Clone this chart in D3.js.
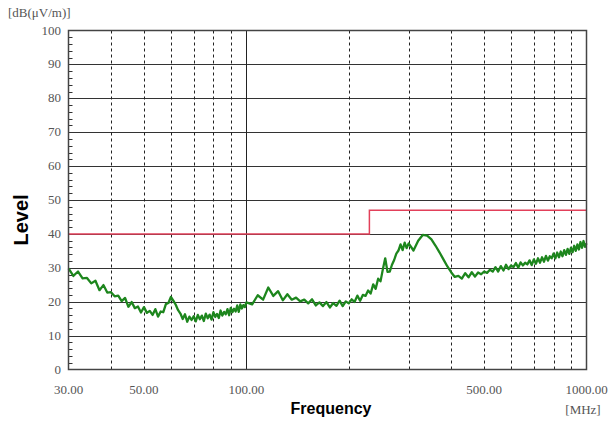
<!DOCTYPE html>
<html>
<head>
<meta charset="utf-8">
<script src="https://cdn.jsdelivr.net/npm/d3@7"></script>
<style>
  body { margin: 0; background: #fff; }
  svg { display: block; }
  .tick-label { font-family: "Liberation Serif", "DejaVu Serif", serif; font-size: 13px; fill: #555; }
  .axis-title { font-family: "Liberation Sans", Arial, sans-serif; font-weight: bold; fill: #000; }
</style>
</head>
<body>
<svg width="611" height="423"></svg>
<script>
// measured trace (MHz / dBuV/m)
const freqs = [
  30,31,32,33,34,35,36,37,38,39,40,41,42,43,44,45,46,47,48,49,50,
  51,52,53,54,55,56,57,58,59,60,61,62,63,64,65,66,67,68,69,70,
  71,72,73,74,75,76,77,78,79,80,81,82,83,84,85,86,87,88,89,90,
  91,92,93,94,95,96,97,98,99,100,
  104,108,112,116,120,124,128,132,136,140,144,148,152,156,160,164,168,172,176,180,
  184,188,192,196,200,204,208,212,216,220,224,228,232,236,240,244,248,252,256,260,
  264,268,272,276,280,284,288,292,296,300,
  310,320,330,340,350,360,370,380,390,400,410,420,430,440,450,460,470,480,490,500,
  510,520,530,540,550,560,570,580,590,600,610,620,630,640,650,660,670,680,690,700,
  710,720,730,740,750,760,770,780,790,800,810,820,830,840,850,860,870,880,890,900,
  910,920,930,940,950,960,970,980,990,1000
];
const levels = [
  29.8,27.6,28.9,26.9,27.0,25.4,26.2,23.4,24.9,22.7,22.8,21.6,21.8,20.2,21.1,18.5,19.9,18.1,18.6,16.8,18.4,
  16.7,17.3,16.1,17.8,15.6,17.1,16.9,19.3,19.6,21.4,20.3,19.1,17.5,16.5,14.9,16.3,14.1,15.6,14.6,15.7,
  14.2,16.1,14.8,15.9,14.3,16.5,15.1,16.2,14.7,16.9,15.5,16.4,15.2,17.4,15.9,17.0,16.3,17.8,16.0,18.2,
  16.9,17.9,17.1,18.9,17.0,19.2,18.0,19.0,18.4,19.8,
  19.2,21.9,20.6,24.2,21.7,23.1,20.4,22.2,20.6,21.2,20.1,20.6,19.5,20.7,18.9,19.8,18.7,19.9,18.3,19.6,
  18.8,20.3,18.7,20.1,19.5,20.7,19.9,21.8,20.3,22.0,21.7,23.3,22.4,25.1,23.8,26.8,26.0,29.6,32.8,28.8,
  28.9,30.9,32.3,34.2,35.1,36.9,35.2,37.4,35.8,37.2,
  35.1,38.0,39.7,39.5,38.4,36.5,34.5,32.4,30.4,28.7,27.3,27.6,26.8,28.4,27.2,28.7,27.4,28.6,28.1,28.9,
  28.5,29.4,28.9,30.2,28.9,30.5,29.2,30.9,29.6,30.7,30.2,31.4,30.0,31.6,30.7,31.5,31.0,32.2,30.8,32.5,
  31.2,32.8,31.5,33.1,31.8,33.5,32.1,33.4,32.8,34.2,32.8,34.5,33.1,34.8,33.4,35.2,33.8,35.6,34.1,35.9,
  34.6,36.5,35.0,36.9,35.4,37.6,35.9,37.9,36.2,37.2
];

// limit line
const limitFreqs = [30, 230, 230, 1000];
const limitLevels = [40, 40, 47, 47];

const yTicks = [0,10,20,30,40,50,60,70,80,90,100];
const gridFreqs = [40,50,60,70,80,90,100,200,300,400,500,600,700,800,900];
const xLabelFreqs = [30,50,100,500,1000];

const svg = d3.select("svg");
const plotL = 68.5, plotR = 586.5, plotT = 30.5, plotB = 369.5;

const x = d3.scaleLog().domain([30, 1000]).range([plotL, plotR]);
const y = d3.scaleLinear().domain([0, 100]).range([plotB, plotT]);

// horizontal grid
svg.append("g").selectAll("line")
  .data(yTicks.filter(d => d > 0 && d < 100))
  .enter().append("line")
    .attr("x1", plotL).attr("x2", plotR)
    .attr("y1", d => Math.round(y(d)) + 0.5).attr("y2", d => Math.round(y(d)) + 0.5)
    .attr("stroke", "#333").attr("stroke-width", 1);

// vertical grid
svg.append("g").selectAll("line")
  .data(gridFreqs)
  .enter().append("line")
    .attr("x1", d => Math.round(x(d)) + 0.5).attr("x2", d => Math.round(x(d)) + 0.5)
    .attr("y1", plotT).attr("y2", plotB)
    .attr("stroke", "#222").attr("stroke-width", 1)
    .attr("stroke-dasharray", d => d === 100 ? null : "3,3");

// minor ticks on the left
svg.append("g").selectAll("line")
  .data(d3.range(2, 100, 2).filter(d => d % 10 !== 0))
  .enter().append("line")
    .attr("x1", plotL).attr("x2", plotL + 4)
    .attr("y1", d => Math.round(y(d)) + 0.5).attr("y2", d => Math.round(y(d)) + 0.5)
    .attr("stroke", "#333");

// limit
const line = d3.line().x(d => x(d[0])).y(d => y(d[1]));
svg.append("path")
  .datum(limitFreqs.map((f, i) => [f, limitLevels[i]]))
  .attr("d", line)
  .attr("fill", "none").attr("stroke", "#e2405a").attr("stroke-width", 1.5);

// trace
svg.append("path")
  .datum(freqs.map((f, i) => [f, levels[i]]))
  .attr("d", line)
  .attr("fill", "none").attr("stroke", "#1d861d").attr("stroke-width", 2.3)
  .attr("stroke-linejoin", "round");

// frame
svg.append("rect")
  .attr("x", plotL).attr("y", plotT)
  .attr("width", plotR - plotL).attr("height", plotB - plotT)
  .attr("fill", "none").attr("stroke", "#444").attr("stroke-width", 1.5);

// y labels
svg.append("g").selectAll("text")
  .data(yTicks)
  .enter().append("text")
    .attr("class", "tick-label")
    .attr("x", 61).attr("y", d => y(d) + 4)
    .attr("text-anchor", "end")
    .text(d => d);

// x labels
svg.append("g").selectAll("text")
  .data(xLabelFreqs)
  .enter().append("text")
    .attr("class", "tick-label")
    .attr("x", d => x(d)).attr("y", 394)
    .attr("text-anchor", "middle")
    .text(d => d.toFixed(2));

svg.append("text").attr("class", "tick-label")
  .attr("x", 583).attr("y", 414).attr("text-anchor", "middle")
  .text("[MHz]");

svg.append("text").attr("class", "tick-label")
  .attr("x", 8).attr("y", 17)
  .text("[dB(\u03bcV/m)]");

svg.append("text").attr("class", "axis-title")
  .attr("font-size", 16)
  .attr("x", 331).attr("y", 414).attr("text-anchor", "middle")
  .text("Frequency");

svg.append("text").attr("class", "axis-title")
  .attr("font-size", 20)
  .attr("transform", "translate(28,220) rotate(-90)")
  .attr("text-anchor", "middle")
  .text("Level");
</script>
</body>
</html>
